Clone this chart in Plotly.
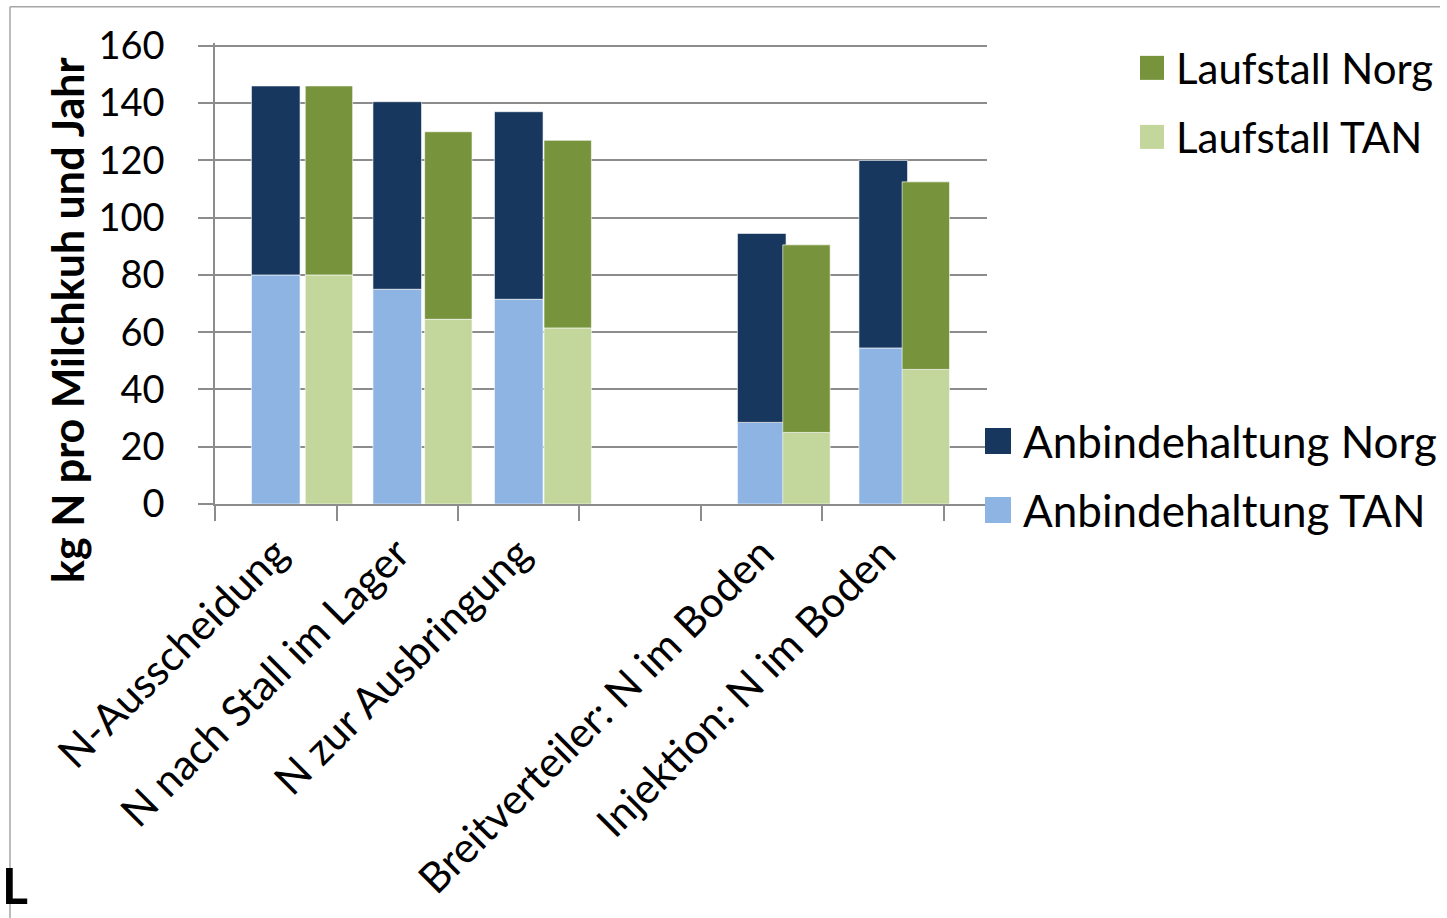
import plotly.graph_objects as go

# Stages of the nitrogen flow (the blank entry leaves a gap between the groups)
categories = ["N-Ausscheidung", "N nach Stall im Lager", "N zur Ausbringung", " ",
              "Breitverteiler: N im Boden", "Injektion: N im Boden"]

# kg N per dairy cow and year
anbinde_tan = [80, 75, 71.5, None, 28.5, 54.5]
anbinde_norg = [66, 65.5, 65.5, None, 66, 65.5]
laufstall_tan = [80, 64.5, 61.5, None, 25, 47]
laufstall_norg = [66, 65.5, 65.5, None, 65.5, 65.5]

y_ticks = [0, 20, 40, 60, 80, 100, 120, 140, 160]

C_ANB_NORG = "#17375E"
C_ANB_TAN = "#8EB4E3"
C_LAU_NORG = "#77933C"
C_LAU_TAN = "#C3D69B"
GRID = "#8C8C8C"
FONT = "Lato"

W, H = 1447, 918
Y_TOP = 161
L, R, B = 215, 460, 414
T = 46 - (Y_TOP - 160) * 458 / 160
PW, PH = W - L - R, H - T - B


def px(x):
    return (x - L) / PW


def py(y):
    return (H - B - y) / PH


fig = go.Figure()

anb_off, anb_w = -0.20, 0.40
lau_off = [0.243 - 0.0175 * i for i in range(len(categories))]
lau_w = 0.39
edge = dict(color="rgba(255,255,255,0.6)", width=1)


def add_stack(tan, norg, off, width, c_tan, c_norg, name_tan, name_norg):
    fig.add_trace(go.Bar(x=categories, y=tan, base=0, offset=off, width=width,
                         marker=dict(color=c_tan, line=edge), name=name_tan,
                         showlegend=False))
    fig.add_trace(go.Bar(x=categories, y=norg, base=tan, offset=off, width=width,
                         marker=dict(color=c_norg, line=edge), name=name_norg,
                         showlegend=False))


add_stack(anbinde_tan, anbinde_norg, anb_off, anb_w, C_ANB_TAN, C_ANB_NORG,
          "Anbindehaltung TAN", "Anbindehaltung Norg")
add_stack(laufstall_tan, laufstall_norg, lau_off, lau_w, C_LAU_TAN, C_LAU_NORG,
          "Laufstall TAN", "Laufstall Norg")

fig.update_layout(
    width=W, height=H, autosize=False,
    margin=dict(l=L, r=R, t=T, b=B, pad=0, autoexpand=False),
    paper_bgcolor="white", plot_bgcolor="white",
    barmode="overlay",
    font=dict(family=FONT, color="black", size=38),
)

fig.update_xaxes(
    type="category", categoryorder="array", categoryarray=categories,
    range=[-0.5, 5.854], tickson="boundaries", ticks="outside", ticklen=15,
    tickwidth=1.5, tickcolor=GRID, showline=True, linecolor=GRID, linewidth=2,
    showgrid=False, tickangle=-45, tickfont=dict(size=42, family=FONT),
    ticklabelstandoff=6, zeroline=False, automargin=False,
)
fig.update_yaxes(
    range=[0, Y_TOP], tickvals=y_ticks, ticks="outside", ticklen=15,
    tickwidth=1.5, tickcolor=GRID, showline=True, linecolor=GRID, linewidth=1.5,
    showgrid=True, gridcolor=GRID, gridwidth=1.5, zeroline=False,
    tickfont=dict(size=38, family=FONT), ticklabelstandoff=26, automargin=False,
)

# y-axis title
fig.add_annotation(
    text="<b>kg N pro Milchkuh und Jahr</b>", textangle=-90,
    xref="paper", yref="paper", x=px(68), y=py(320),
    showarrow=False, font=dict(size=43, family=FONT, color="black"),
    xanchor="center", yanchor="middle",
)

# legends: two blocks
legend_items = [
    ("Laufstall Norg", C_LAU_NORG, 1140, 68, 24, 42),
    ("Laufstall TAN", C_LAU_TAN, 1140, 137, 24, 42),
    ("Anbindehaltung Norg", C_ANB_NORG, 985, 441, 26, 44),
    ("Anbindehaltung TAN", C_ANB_TAN, 985, 510, 26, 44),
]
for label, color, x0, yc, s, fs in legend_items:
    fig.add_shape(type="rect", xref="paper", yref="paper",
                  x0=px(x0), x1=px(x0 + s), y0=py(yc - s / 2), y1=py(yc + s / 2),
                  fillcolor=color, line=dict(width=0), layer="above")
    fig.add_annotation(text=label, xref="paper", yref="paper",
                       x=px(x0 + s + 10), y=py(yc), xanchor="left", yanchor="middle",
                       showarrow=False, font=dict(size=fs, family=FONT, color="black"))

# frame lines at top and left
fig.add_shape(type="line", xref="paper", yref="paper",
              x0=px(10), x1=px(1440), y0=py(7), y1=py(7),
              line=dict(color="#A6A6A6", width=1.5))
fig.add_shape(type="line", xref="paper", yref="paper",
              x0=px(10), x1=px(10), y0=py(7), y1=py(918),
              line=dict(color="#A6A6A6", width=1.5))

# letter in the lower left corner
fig.add_annotation(text="<b>L</b>", xref="paper", yref="paper",
                   x=px(0), y=py(917), xanchor="left", yanchor="bottom",
                   showarrow=False, font=dict(size=50, family=FONT, color="black"))

fig.write_html("out.html")
